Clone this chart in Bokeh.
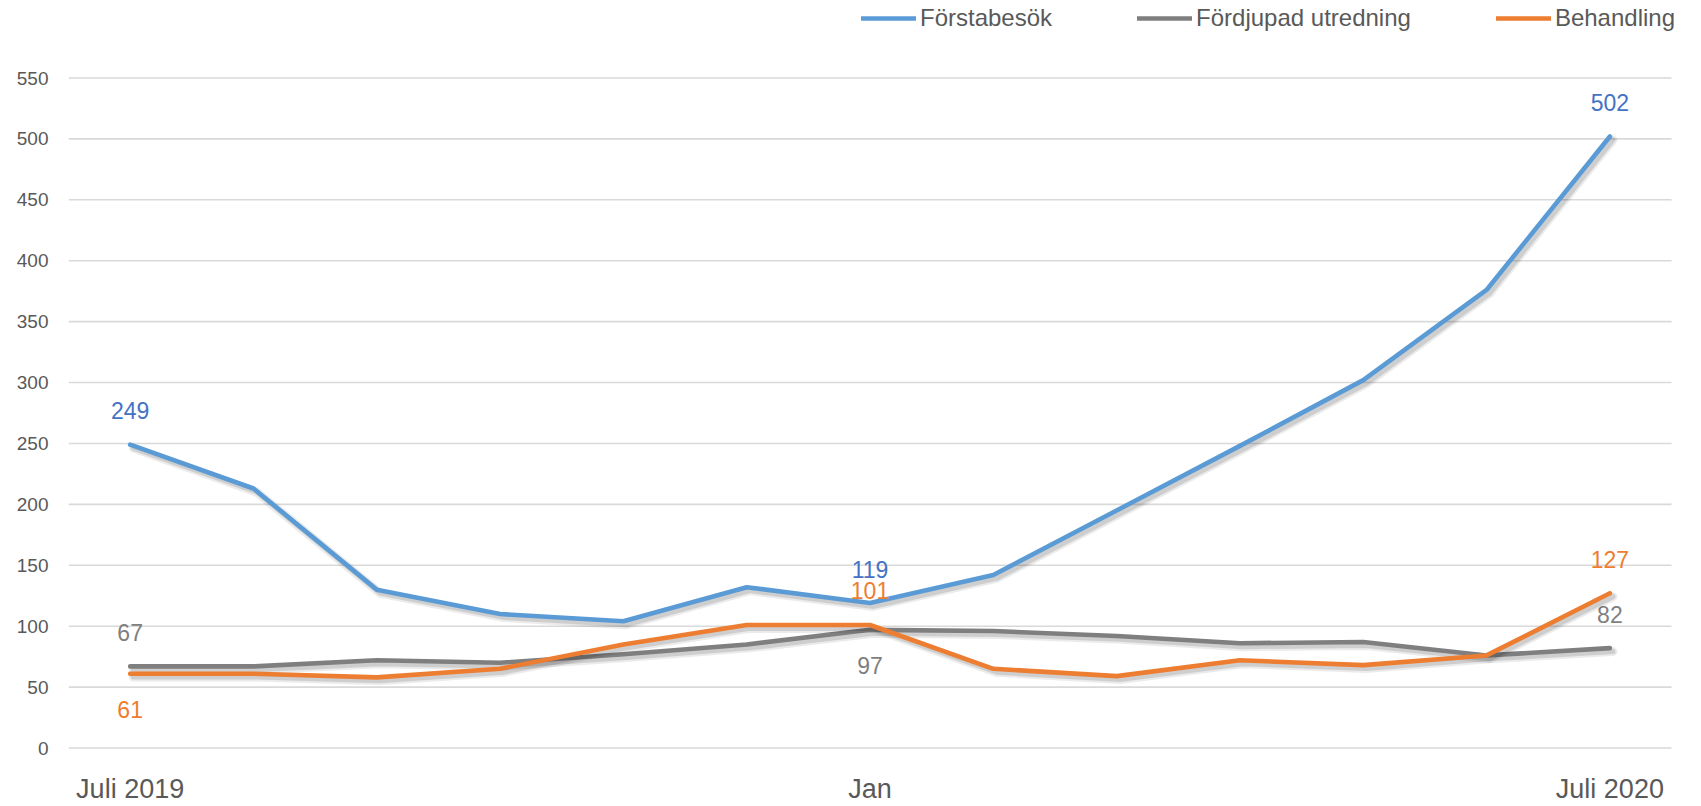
from bokeh.plotting import figure
from bokeh.models import ColumnDataSource, FixedTicker, Legend, LegendItem, Range1d
from bokeh.transform import dodge
from bokeh.core.properties import value
from bokeh.embed import file_html
from bokeh.resources import INLINE

months = list(range(13))
tick_positions = [0, 6, 12]
tick_labels = ["Juli 2019", "Jan", "Juli 2020"]
y_ticks = list(range(0, 551, 50))

forstabesok = [249, 213, 130, 110, 104, 132, 119, 142, 195, 248, 302, 376, 502]
fordjupad = [67, 67, 72, 70, 77, 85, 97, 96, 92, 86, 87, 76, 82]
behandling = [61, 61, 58, 65, 85, 101, 101, 65, 59, 72, 68, 76, 127]

series_names = ["Förstabesök", "Fördjupad utredning", "Behandling"]
line_colors = ["#5B9BD5", "#7F7F7F", "#ED7D31"]
label_colors = ["#4472C4", "#7F7F7F", "#ED7D31"]
# which points carry a data label, and whether it sits above ("a") or below ("b")
label_points = [
    [(0, "a"), (6, "a"), (12, "a")],
    [(0, "a"), (6, "b"), (12, "a")],
    [(0, "b"), (6, "a"), (12, "a")],
]

FONT = "Liberation Sans"

# The frame fills the canvas except for the y-axis labels, so the legend and the
# category labels can be drawn inside it; gridlines span only the categories.
p = figure(width=1701, height=806, output_backend="svg", toolbar_location=None,
           x_range=Range1d(-0.5, 12.743), y_range=Range1d(-48.02, 613.62),
           min_border_left=68, min_border_right=0, min_border_top=0,
           min_border_bottom=0)
p.outline_line_color = None
p.background_fill_color = "white"
p.border_fill_color = "white"
p.xgrid.grid_line_color = None
p.ygrid.grid_line_color = None
p.xaxis.visible = False

x_lo = months[0] - 0.5
x_hi = months[-1] + 0.5
p.segment(x0=[x_lo] * len(y_ticks), x1=[x_hi] * len(y_ticks), y0=y_ticks, y1=y_ticks,
          line_color="#D9D9D9", line_width=1.6)

p.yaxis.ticker = FixedTicker(ticks=y_ticks)
p.yaxis.axis_line_color = None
p.yaxis.major_tick_line_color = None
p.yaxis.minor_tick_line_color = None
p.yaxis.major_tick_out = 0
p.yaxis.minor_tick_out = 0
p.yaxis.major_label_standoff = 20
p.yaxis.major_label_text_font = FONT
p.yaxis.major_label_text_font_size = "19px"
p.yaxis.major_label_text_color = "#595959"

# category labels under the zero line
csrc = ColumnDataSource(dict(x=tick_positions, y=[0] * len(tick_positions), t=tick_labels))
p.text(x="x", y="y", text="t", source=csrc, text_font=value(FONT),
       text_font_size="27px", text_color="#595959", text_align="center",
       text_baseline="alphabetic", y_offset=41)

all_values = [forstabesok, fordjupad, behandling]
legend_items = []
for name, vals, lc, tc, lp in zip(series_names, all_values, line_colors, label_colors, label_points):
    src = ColumnDataSource(dict(x=months, y=vals))
    # soft shadow
    p.line(x=dodge("x", 0.025), y=dodge("y", -2.8), source=src, line_color="#000000",
           line_alpha=0.08, line_width=9, line_join="round", line_cap="round")
    p.line(x=dodge("x", 0.025), y=dodge("y", -2.8), source=src, line_color="#000000",
           line_alpha=0.12, line_width=5, line_join="round", line_cap="round")
    r = p.line(x="x", y="y", source=src, line_color=lc, line_width=4.6,
               line_join="round", line_cap="round")
    legend_items.append(LegendItem(label=name, renderers=[r]))
    for idx, pos in lp:
        lsrc = ColumnDataSource(dict(x=[months[idx]], y=[vals[idx]], t=[str(vals[idx])]))
        p.text(x="x", y="y", text="t", source=lsrc, text_font=value(FONT),
               text_font_size="23px", text_color=tc, text_align="center",
               text_baseline="alphabetic", y_offset=(-34 if pos == "a" else 36))

legend = Legend(items=legend_items, orientation="horizontal", location=(793, 774),
                glyph_width=55, glyph_height=24, label_height=24, label_standoff=4,
                spacing=85, padding=0, margin=0, border_line_alpha=0,
                background_fill_alpha=0, label_text_font=FONT,
                label_text_font_size="24px", label_text_color="#595959")
p.add_layout(legend, "center")

open("out.html", "w").write(file_html(p, INLINE))
